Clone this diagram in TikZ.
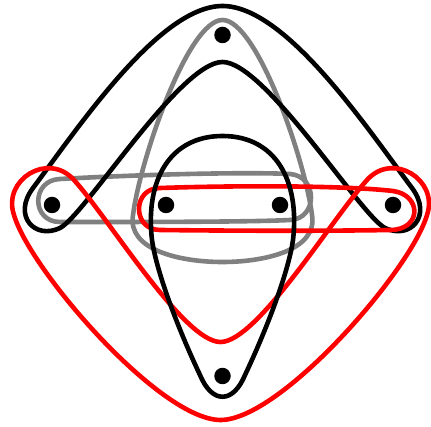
\documentclass[tikz,border=0pt]{standalone}
\begin{document}
\begin{tikzpicture}[x=1pt,y=-1pt,
  edgeline/.style={line width=4.6pt,line join=round},
  blackedge/.style={edgeline,draw=black},
  grayedge/.style={edgeline,draw=gray},
  rededge/.style={edgeline,draw=red},
  vertex/.style={circle,fill=black,inner sep=0pt,minimum size=16.5pt}]
\useasboundingbox (0,0) rectangle (431,427);
% gray triangle
\draw[grayedge] (222.5,20) .. controls (257,20) and (305,160) .. (312,215)
  .. controls (318,250) and (265,262) .. (222.5,262)
  .. controls (180,262) and (127,250) .. (133,215)
  .. controls (140,160) and (188,20) .. (222.5,20) -- cycle;
% gray horizontal
\draw[grayedge] (60,179) .. controls (150,174) and (250,172) .. (290,174)
  .. controls (318,176) and (318,219) .. (290,220)
  .. controls (250,222) and (150,222) .. (60,222)
  .. controls (31,222) and (31,180) .. (60,179) -- cycle;
% black boomerang
\draw[blackedge] (222.5,6) .. controls (285,6) and (365,125) .. (412,188)
  .. controls (433,216) and (410,240) .. (385,228)
  .. controls (360,215) and (265,62) .. (222.5,62)
  .. controls (180,62) and (85,215) .. (60,228)
  .. controls (35,240) and (12,216) .. (33,188)
  .. controls (80,125) and (160,6) .. (222.5,6) -- cycle;
% red V
\draw[rededge] (220.5,342) .. controls (257,342) and (331,220) .. (367,180)
  .. controls (393,151) and (439,180) .. (427,215)
  .. controls (411,270) and (281,420) .. (220.5,420)
  .. controls (160,420) and (30,270) .. (14,215)
  .. controls (2,180) and (48,151) .. (74,180)
  .. controls (110,220) and (184,342) .. (220.5,342) -- cycle;
% red horizontal
\draw[rededge] (160,188) .. controls (250,185) and (350,186) .. (393,191)
  .. controls (422,195) and (422,230) .. (390,230)
  .. controls (330,231) and (250,231) .. (160,230)
  .. controls (132,230) and (132,188) .. (160,188) -- cycle;
% black teardrop
\draw[blackedge] (222.5,136) .. controls (275,136) and (300,180) .. (293,240)
  .. controls (288,275) and (264,335) .. (245,375)
  .. controls (233,404) and (212,404) .. (200,375)
  .. controls (181,335) and (157,275) .. (152,240)
  .. controls (145,180) and (170,136) .. (222.5,136) -- cycle;
% vertices
\node[vertex] (top) at (222.5,35) {};
\node[vertex] (l) at (52,205) {};
\node[vertex] (cl) at (166,205) {};
\node[vertex] (cr) at (280,205) {};
\node[vertex] (r) at (393,205) {};
\node[vertex] (bot) at (222.5,376) {};
\end{tikzpicture}
\end{document}
